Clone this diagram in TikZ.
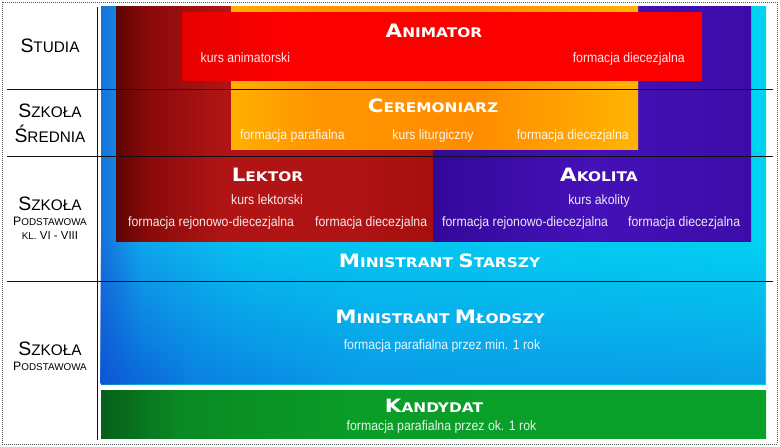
\documentclass[tikz,border=0pt]{standalone}
\usepackage{fontspec}
\setmainfont{Liberation Sans}
\newfontfamily\titlefont{DejaVu Sans}[FakeStretch=1.16]
\newfontfamily\subfont{Liberation Sans}[FakeStretch=0.9]
\usetikzlibrary{fadings}
\definecolor{bgA}{HTML}{1572DC}
\definecolor{bgB}{HTML}{10A8EC}
\definecolor{bgC}{HTML}{06C4F0}
\definecolor{bgD}{HTML}{02D2F2}
\definecolor{blA}{HTML}{0C58D4}
\definecolor{blB}{HTML}{0A80E2}
\definecolor{blC}{HTML}{0A9CE8}
\definecolor{blD}{HTML}{0AA0E8}
\definecolor{lkA}{HTML}{5E0404}
\definecolor{lkB}{HTML}{8A0A0A}
\definecolor{lkC}{HTML}{B01414}
\definecolor{lkD}{HTML}{A60E0E}
\definecolor{akA}{HTML}{33089A}
\definecolor{akB}{HTML}{4511B8}
\definecolor{akC}{HTML}{3C0CA8}
\definecolor{orA}{HTML}{FFB000}
\definecolor{orB}{HTML}{FF9600}
\definecolor{orC}{HTML}{FF8C00}
\definecolor{orD}{HTML}{FFB400}
\definecolor{rdA}{HTML}{E80000}
\definecolor{rdB}{HTML}{FC0000}
\definecolor{gnA}{HTML}{06601A}
\definecolor{gnB}{HTML}{0A8A24}
\definecolor{gnC}{HTML}{0A9E28}
\definecolor{gnD}{HTML}{08A028}
\definecolor{linec}{HTML}{111111}
\definecolor{dotc}{HTML}{555555}
\pgfdeclarehorizontalshading{bluesh}{100bp}{color(0bp)=(bgA); color(25bp)=(bgA); color(28bp)=(bgB); color(36bp)=(bgC); color(75bp)=(bgD); color(100bp)=(bgD)}
\pgfdeclarehorizontalshading{bluelow}{100bp}{color(0bp)=(blA); color(25bp)=(blA); color(32bp)=(blB); color(45bp)=(blC); color(75bp)=(blD); color(100bp)=(blD)}
\pgfdeclarehorizontalshading{lektsh}{100bp}{color(0bp)=(lkA); color(25bp)=(lkA); color(30bp)=(lkB); color(42bp)=(lkC); color(62bp)=(lkC); color(75bp)=(lkD); color(100bp)=(lkD)}
\pgfdeclarehorizontalshading{akolsh}{100bp}{color(0bp)=(akA); color(25bp)=(akA); color(50bp)=(akB); color(75bp)=(akC); color(100bp)=(akC)}
\pgfdeclarehorizontalshading{oransh}{100bp}{color(0bp)=(orA); color(25bp)=(orA); color(35bp)=(orB); color(55bp)=(orC); color(75bp)=(orD); color(100bp)=(orD)}
\pgfdeclarehorizontalshading{redsh}{100bp}{color(0bp)=(rdA); color(25bp)=(rdA); color(35bp)=(rdB); color(75bp)=(rdB); color(100bp)=(rdB)}
\pgfdeclarehorizontalshading{greensh}{100bp}{color(0bp)=(gnA); color(25bp)=(gnA); color(31bp)=(gnB); color(45bp)=(gnC); color(75bp)=(gnD); color(100bp)=(gnD)}
\tikzfading[name=fadedown, top color=transparent!100, bottom color=transparent!0]
\newcommand\tB[1]{{\fontsize{18.5}{20}\selectfont #1}}
\newcommand\tS[1]{{\fontsize{13.3}{14}\selectfont #1}}
\newcommand\lB[1]{{\fontsize{19.5}{21}\selectfont #1}}
\newcommand\lS[1]{{\fontsize{15.4}{17}\selectfont #1}}
\newcommand\pB[1]{{\fontsize{12.3}{13}\selectfont #1}}
\newcommand\pS[1]{{\fontsize{9.9}{11}\selectfont #1}}
\tikzset{
  ttl/.style={inner sep=0pt, anchor=base, text=white, font=\titlefont\bfseries},
  sub/.style={inner sep=0pt, text=white, text opacity=0.9, font=\subfont\fontsize{13.7}{15}\selectfont},
  lbl/.style={inner sep=0pt, anchor=base, text=black},
  rule/.style={draw=linec, line width=0.9bp},
}
\begin{document}
\begin{tikzpicture}[x=1bp,y=-1bp]
\useasboundingbox (0,0) rectangle (780,447);
\fill[white] (0,0) rectangle (780,447);
% coloured blocks
\shade[shading=bluesh] (101,7) rectangle (766,384);
\shade[shading=bluelow, path fading=fadedown] (101,236) rectangle (766,384);
\shade[shading=greensh] (101,390) rectangle (766,438);
\shade[shading=lektsh] (116,7) rectangle (433,242);
\shade[shading=akolsh] (433,7) rectangle (751,242);
\shade[shading=oransh] (231,7) rectangle (638,150);
\shade[shading=redsh] (182,13) rectangle (702,81);
% frame
\draw[dotc, line width=0.8bp, dash pattern=on 0.8bp off 1.2bp] (2,2) rectangle (777,444);
% rules
\coordinate (v1) at (97,7);
\coordinate (v2) at (97,440);
\coordinate (a1) at (7,89);
\coordinate (a2) at (773,89);
\coordinate (b1) at (7,156);
\coordinate (b2) at (773,156);
\coordinate (c1) at (7,281);
\coordinate (c2) at (773,281);
\draw[rule] (v1) -- (v2);
\draw[rule] (a1) -- (a2);
\draw[rule] (b1) -- (b2);
\draw[rule] (c1) -- (c2);
% left labels
\node[lbl] (studia) at (50,53) {\lB{S}\lS{TUDIA}};
\node[lbl] (sz1) at (50,118) {\lB{S}\lS{ZKOŁA}};
\node[lbl] (sred) at (50,143) {\lB{Ś}\lS{REDNIA}};
\node[lbl] (sz2) at (50,211) {\lB{S}\lS{ZKOŁA}};
\node[lbl] (pod1) at (50,226) {\pB{P}\pS{ODSTAWOWA}};
\node[lbl] (klasy) at (50,240) {\pS{KL.}{\fontsize{11.5}{12}\selectfont\ VI - VIII}};
\node[lbl] (sz3) at (50,356) {\lB{S}\lS{ZKOŁA}};
\node[lbl] (pod2) at (50,371) {\pB{P}\pS{ODSTAWOWA}};
% titles
\node[ttl] (anim) at (434,38) {\tB{A}\tS{NIMATOR}};
\node[ttl] (cere) at (433,113) {\tB{C}\tS{EREMONIARZ}};
\node[ttl] (lekt) at (267.5,182) {\tB{L}\tS{EKTOR}};
\node[ttl] (akol) at (599,182) {\tB{A}\tS{KOLITA}};
\node[ttl] (mst) at (439.5,268) {\tB{M}\tS{INISTRANT }\tB{S}\tS{TARSZY}};
\node[ttl] (mml) at (440,324) {\tB{M}\tS{INISTRANT }\tB{M}\tS{ŁODSZY}};
\node[ttl] (kand) at (434,412) {\tB{K}\tS{ANDYDAT}};
% small texts
\node[sub, anchor=base west] (an1) at (200.5,63) {kurs animatorski};
\node[sub, anchor=base east] (an2) at (685,63) {formacja diecezjalna};
\node[sub, anchor=base west] (ce1) at (240,140) {formacja parafialna};
\node[sub, anchor=base] (ce2) at (433,140) {kurs liturgiczny};
\node[sub, anchor=base east] (ce3) at (629,140) {formacja diecezjalna};
\node[sub, anchor=base] (le1) at (267,205) {kurs lektorski};
\node[sub, anchor=base west] (le2) at (128,227) {formacja rejonowo-diecezjalna};
\node[sub, anchor=base west] (le3) at (315,227) {formacja diecezjalna};
\node[sub, anchor=base] (ak1) at (599,205) {kurs akolity};
\node[sub, anchor=base west] (ak2) at (442,227) {formacja rejonowo-diecezjalna};
\node[sub, anchor=base west] (ak3) at (628,227) {formacja diecezjalna};
\node[sub, anchor=base] (mm1) at (442,350) {formacja parafialna przez min. 1 rok};
\node[sub, anchor=base] (ka1) at (441.5,430) {formacja parafialna przez ok. 1 rok};
\end{tikzpicture}
\end{document}
